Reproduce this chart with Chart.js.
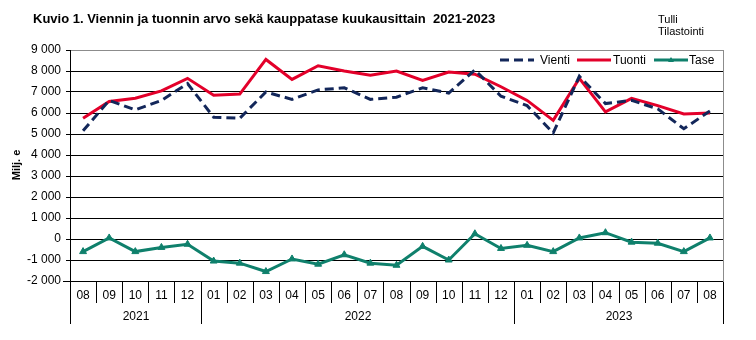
<!DOCTYPE html>
<html lang="fi">
<head>
<meta charset="UTF-8">
<title>Kuvio 1. Viennin ja tuonnin arvo sekä kauppatase kuukausittain 2021-2023</title>
<script src="https://cdn.jsdelivr.net/npm/chart.js@4"></script>
<style>
  html, body { margin: 0; padding: 0; background: #fff; }
  #kaavio { position: relative; width: 756px; height: 340px; }
</style>
</head>
<body>
<div id="kaavio"><canvas id="kuvio"></canvas></div>
<script>
// kuukaudet 08/2021 - 08/2023, milj. euroa
const kuukaudet = ['08','09','10','11','12',
  '01','02','03','04','05','06','07','08','09','10','11','12',
  '01','02','03','04','05','06','07','08'];
const vuodet = ['2021', '2022', '2023'];

const vienti = [5150, 6600, 6150, 6600, 7400,
  5800, 5750, 7000, 6650, 7100, 7200, 6650, 6750, 7200, 6950, 8050, 6800,
  6350, 5050, 7750, 6450, 6600, 6200, 5250, 6100];
const tuonti = [5750, 6550, 6700, 7050, 7650,
  6850, 6900, 8550, 7600, 8250, 8000, 7800, 8000, 7550, 7950, 7850, 7250,
  6600, 5650, 7650, 6050, 6700, 6350, 5950, 6000];
const tase = [-600, 50, -600, -400, -250,
  -1050, -1150, -1550, -950, -1200, -750, -1150, -1250, -350, -1000, 250, -450,
  -300, -600, 50, 300, -150, -200, -600, 50];

const yMin = -2000, yMax = 9000, yStep = 1000;

const FONT = '"Liberation Sans", Arial, sans-serif';
const NAVY = '#13275a';
const RED = '#e3002a';
const TEAL = '#0f806c';

function muotoile(v) {
  const s = String(Math.abs(v)).replace(/\B(?=(\d{3})+(?!\d))/g, ' ');
  return (v < 0 ? '-' : '') + s;
}

// otsikot, selite ja kaksitasoinen aika-akseli
const kehys = {
  id: 'kehys',
  afterDraw(chart) {
    const ctx = chart.ctx;
    const a = chart.chartArea;
    const xs = chart.scales.x;
    ctx.save();

    ctx.fillStyle = '#000';
    ctx.textBaseline = 'alphabetic';
    ctx.textAlign = 'left';
    ctx.font = 'bold 13px ' + FONT;
    ctx.fillText('Kuvio 1. Viennin ja tuonnin arvo sekä kauppatase kuukausittain  2021-2023', 33, 23);
    ctx.font = '11px ' + FONT;
    ctx.fillText('Tulli', 658, 23);
    ctx.fillText('Tilastointi', 658, 35);

    // y-akselin nimi
    ctx.save();
    ctx.translate(20, 165);
    ctx.rotate(-Math.PI / 2);
    ctx.textAlign = 'center';
    ctx.font = 'bold 11px ' + FONT;
    ctx.fillText('Milj. e', 0, 0);
    ctx.restore();

    // kehyksen oikea reuna
    ctx.strokeStyle = '#8c8c8c';
    ctx.lineWidth = 1;
    ctx.beginPath();
    ctx.moveTo(Math.round(a.right) + 0.5, a.top);
    ctx.lineTo(Math.round(a.right) + 0.5, a.bottom);
    ctx.stroke();

    // kuukausi- ja vuosijako
    const w = (xs.getPixelForValue(1) - xs.getPixelForValue(0));
    const x0 = xs.getPixelForValue(0) - w / 2;
    const yb = Math.round(a.bottom) + 0.5;
    ctx.strokeStyle = '#000';
    ctx.beginPath();
    ctx.moveTo(63, yb);
    ctx.lineTo(a.right, yb);
    const rajat = [];
    for (let i = 0; i <= kuukaudet.length; i++) {
      const x = Math.round(x0 + i * w) + 0.5;
      const vuosiraja = i === 0 || i === kuukaudet.length || kuukaudet[i] === '01';
      if (vuosiraja) rajat.push(x);
      ctx.moveTo(x, yb);
      ctx.lineTo(x, vuosiraja ? a.bottom + 43 : a.bottom + 22);
    }
    ctx.stroke();

    ctx.font = '12px ' + FONT;
    ctx.textAlign = 'center';
    ctx.textBaseline = 'middle';
    kuukaudet.forEach((k, i) => {
      ctx.fillText(k, xs.getPixelForValue(i), a.bottom + 15);
    });
    vuodet.forEach((v, i) => {
      ctx.fillText(v, (rajat[i] + rajat[i + 1]) / 2, a.bottom + 36);
    });

    // selite
    const ly = a.top + 10;
    const selite = [
      { teksti: 'Vienti', x: 500, tx: 540, ds: 0 },
      { teksti: 'Tuonti', x: 577, tx: 613, ds: 1 },
      { teksti: 'Tase', x: 654, tx: 689, ds: 2 }
    ];
    ctx.textAlign = 'left';
    ctx.font = '12px ' + FONT;
    selite.forEach(s => {
      const d = chart.data.datasets[s.ds];
      ctx.save();
      ctx.strokeStyle = d.borderColor;
      ctx.lineWidth = d.borderWidth;
      ctx.setLineDash(d.borderDash || []);
      ctx.beginPath();
      ctx.moveTo(s.x, ly);
      ctx.lineTo(s.x + 34, ly);
      ctx.stroke();
      if (d.pointStyle === 'triangle') {
        ctx.fillStyle = d.borderColor;
        ctx.beginPath();
        ctx.moveTo(s.x + 17, ly - 3);
        ctx.lineTo(s.x + 20, ly + 2);
        ctx.lineTo(s.x + 14, ly + 2);
        ctx.closePath();
        ctx.fill();
      }
      ctx.restore();
      ctx.fillStyle = '#000';
      ctx.fillText(s.teksti, s.tx, ly + 1);
    });

    ctx.restore();
  }
};

new Chart(document.getElementById('kuvio'), {
  type: 'line',
  data: {
    labels: kuukaudet,
    datasets: [
      {
        label: 'Vienti',
        data: vienti,
        borderColor: NAVY,
        borderWidth: 3,
        borderDash: [9, 5],
        pointRadius: 0,
        tension: 0
      },
      {
        label: 'Tuonti',
        data: tuonti,
        borderColor: RED,
        borderWidth: 3,
        pointRadius: 0,
        tension: 0
      },
      {
        label: 'Tase',
        data: tase,
        borderColor: TEAL,
        backgroundColor: TEAL,
        borderWidth: 3,
        pointStyle: 'triangle',
        pointRadius: 4,
        pointBorderWidth: 1,
        tension: 0
      }
    ]
  },
  options: {
    responsive: true,
    maintainAspectRatio: false,
    animation: false,
    layout: { padding: { top: 50, right: 33, bottom: 59, left: 0 } },
    plugins: {
      legend: { display: false },
      tooltip: { enabled: false }
    },
    scales: {
      x: {
        display: false,
        offset: true
      },
      y: {
        min: yMin,
        max: yMax,
        afterFit(scale) {
          scale.width = 70;
          scale.paddingTop = 0;
          scale.paddingBottom = 0;
        },
        border: { color: '#000', width: 1 },
        grid: {
          color: c => (c.tick && c.tick.value === yMax ? '#8c8c8c' : '#000'),
          tickLength: 4,
          tickColor: '#000'
        },
        ticks: {
          stepSize: yStep,
          padding: 5,
          color: '#000',
          font: { family: FONT, size: 12 },
          callback: v => muotoile(v)
        }
      }
    }
  },
  plugins: [kehys]
});
</script>
</body>
</html>
